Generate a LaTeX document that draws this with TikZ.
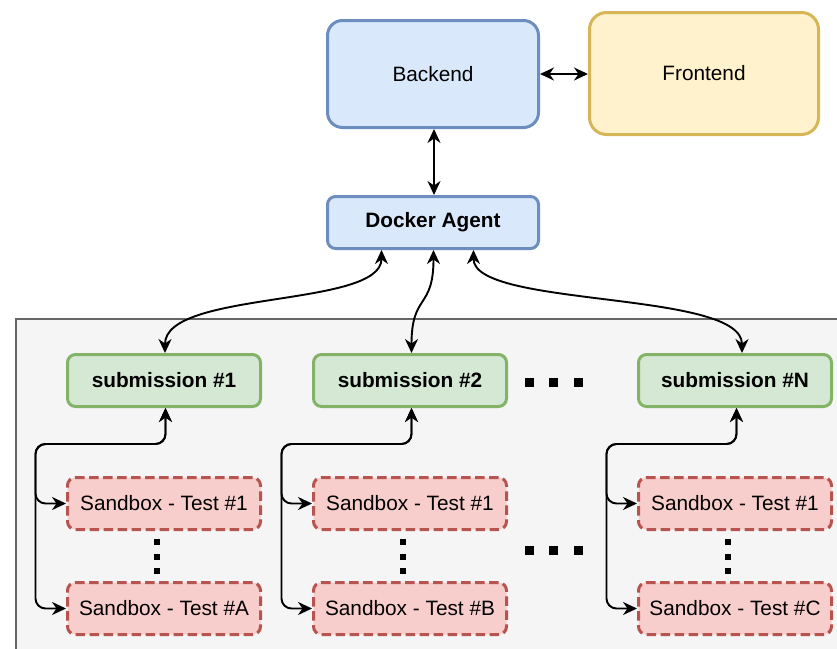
\documentclass[tikz,border=0pt]{standalone}
\usepackage{fontspec}
\setmainfont{Liberation Sans}
\usetikzlibrary{arrows.meta,calc}

\definecolor{blueFill}{HTML}{DAE8FC}
\definecolor{blueLine}{HTML}{6C8EBF}
\definecolor{yellowFill}{HTML}{FFF2CC}
\definecolor{yellowLine}{HTML}{D6B656}
\definecolor{greenFill}{HTML}{D5E8D4}
\definecolor{greenLine}{HTML}{82B366}
\definecolor{redFill}{HTML}{F8CECC}
\definecolor{redLine}{HTML}{B85450}
\definecolor{grayFill}{HTML}{F5F5F5}
\definecolor{grayLine}{HTML}{666666}

\tikzset{
  basebox/.style={draw, line width=3pt, anchor=north west, inner sep=0pt,
    font=\fontsize{20.8}{24}\selectfont},
  svcbox/.style={basebox, fill=blueFill, draw=blueLine},
  subbox/.style={basebox, fill=greenFill, draw=greenLine, rounded corners=8pt,
    minimum width=193pt, minimum height=52pt, font=\fontsize{20.8}{24}\selectfont\bfseries},
  sandbox/.style={basebox, fill=redFill, draw=redLine, rounded corners=8pt,
    dash pattern=on 9.5pt off 4.5pt, minimum width=193pt, minimum height=52pt},
  link/.style={line width=1.9pt,
    {Stealth[length=14pt,width=13pt,inset=4.5pt]}-{Stealth[length=14pt,width=13pt,inset=4.5pt]}},
  dotbig/.style={fill=black},
}

\begin{document}
\begin{tikzpicture}[x=1pt,y=-1pt]
  \clip (0,0) rectangle (837,648);
  \fill[white] (0,0) rectangle (837,648);

  % container for the submissions
  \draw[fill=grayFill, draw=grayLine, line width=1.6pt] (16,319) rectangle (860,680);

  % services
  \node[svcbox, rounded corners=15pt, minimum width=211pt, minimum height=107pt] (back) at (326,19) {Backend};
  \node[basebox, fill=yellowFill, draw=yellowLine, rounded corners=17pt,
        minimum width=229pt, minimum height=122pt] (front) at (588,11) {Frontend};
  \node[svcbox, rounded corners=8pt, minimum width=211pt, minimum height=52pt,
        font=\fontsize{20.8}{24}\selectfont\bfseries] (dock) at (326,195) {Docker Agent};

  % submissions
  \node[subbox] (sub1) at (66,353) {submission \#1};
  \node[subbox] (sub2) at (312,353) {submission \#2};
  \node[subbox] (subN) at (637,353) {submission \#N};

  % sandboxes
  \node[sandbox] (sb1a) at (66,476) {Sandbox - Test \#1};
  \node[sandbox] (sb1b) at (66,581) {Sandbox - Test \#A};
  \node[sandbox] (sb2a) at (312,476) {Sandbox - Test \#1};
  \node[sandbox] (sb2b) at (312,581) {Sandbox - Test \#B};
  \node[sandbox] (sbNa) at (637,476) {Sandbox - Test \#1};
  \node[sandbox] (sbNb) at (637,581) {Sandbox - Test \#C};

  % top connectors
  \draw[link] (back.east) -- (back.east -| front.west);
  \draw[link] ([xshift=1pt]back.south) -- ([xshift=1pt]dock.north);

  % docker agent to submissions
  \draw[link] ([xshift=-51.5pt]dock.south) .. controls +(0,58) and +(0,-63) .. ([xshift=1pt]sub1.north);
  \draw[link] ([xshift=0.5pt]dock.south) .. controls +(0,60) and +(0,-60) .. ([xshift=1.5pt]sub2.north);
  \draw[link] ([xshift=40.5pt]dock.south) .. controls +(0,58) and +(0,-63) .. ([xshift=7pt]subN.north);

  % submissions to their sandboxes
  \foreach \s/\a/\b/\dx in {sub1/sb1a/sb1b/1.5, sub2/sb2a/sb2b/1.5, subN/sbNa/sbNb/1.5}{
    \draw[link, rounded corners=10pt] ([xshift=\dx pt]\s.south) -- ++(0,36) -- ++(-130,0) |- (\a.west);
    \draw[link, rounded corners=10pt] ([xshift=\dx pt]\s.south) -- ++(0,36) -- ++(-130,0) |- (\b.west);
  }

  % vertical ellipses between sandboxes
  \foreach \cx in {157,403,728}{
    \foreach \cy in {542,557,571}{
      \fill[dotbig] (\cx-3,\cy-3) rectangle ++(6,6);
    }
  }
  % horizontal ellipses between columns
  \foreach \cy in {382,550}{
    \foreach \cx in {529,553,578}{
      \fill[dotbig] (\cx-4.5,\cy-4.5) rectangle ++(9,9);
    }
  }
\end{tikzpicture}
\end{document}
